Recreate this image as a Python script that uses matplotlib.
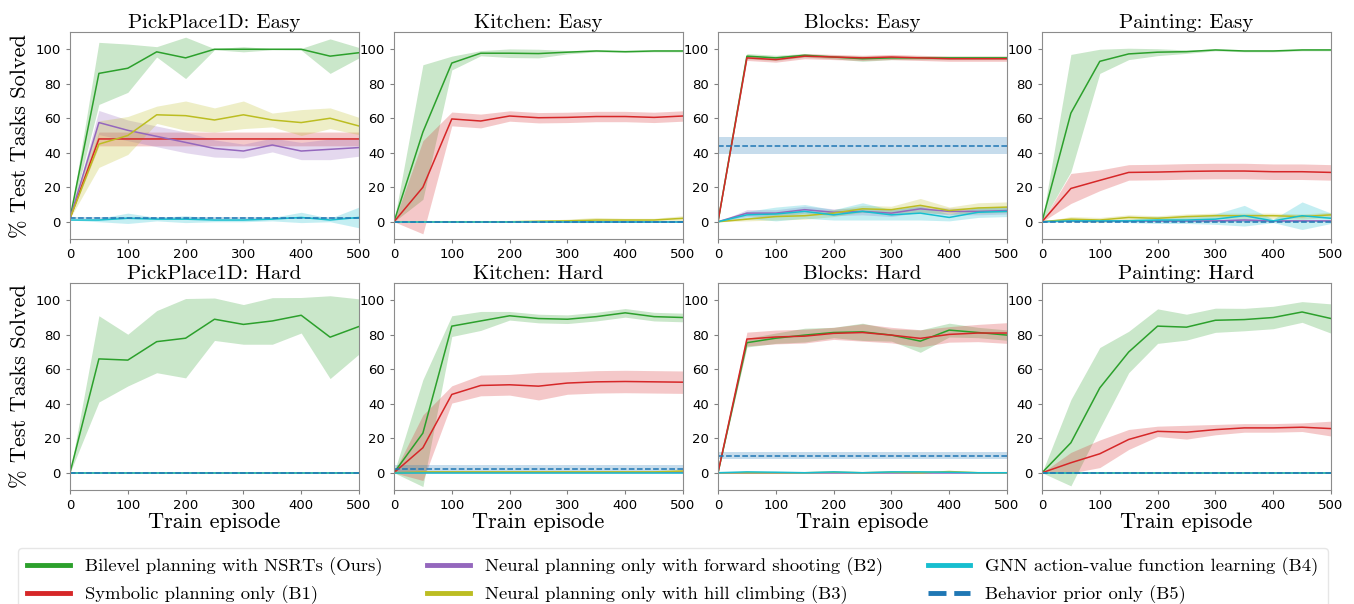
import numpy as np
import matplotlib
matplotlib.use("Agg")
import matplotlib.pyplot as plt
from matplotlib.lines import Line2D

# x positions (train episodes)
episodes = [0, 50, 100, 150, 200, 250, 300, 350, 400, 450, 500]

methods = [
    "Bilevel planning with NSRTs (Ours)",
    "Symbolic planning only (B1)",
    "Neural planning only with forward shooting (B2)",
    "Neural planning only with hill climbing (B3)",
    "GNN action-value function learning (B4)",
    "Behavior prior only (B5)",
]
colors = ["#2ca02c", "#d62728", "#9467bd", "#bcbd22", "#17becf", "#1f77b4"]

titles = ["PickPlace1D: Easy", "Kitchen: Easy", "Blocks: Easy", "Painting: Easy",
          "PickPlace1D: Hard", "Kitchen: Hard", "Blocks: Hard", "Painting: Hard"]

# rows: Ours, B1, B2, B3, B4 ; B5 is a flat (mean, std)
pickplace_easy_mean = [
    [2, 86, 89, 98.5, 95, 100, 100, 100, 100, 96, 98],
    [2, 48, 48, 48, 48, 48, 48, 48, 48, 48, 48],
    [2, 57.5, 53, 49.5, 46, 42.5, 41, 44.5, 41, 42, 43],
    [2, 45, 50, 62, 61.5, 59, 62, 59, 57.5, 60, 55.5],
    [1, 1, 2, 1.5, 1.5, 1, 1, 1.5, 2.5, 1, 2.5],
]
pickplace_easy_std = [
    [0, 18, 14, 3, 12, 0.3, 1.5, 0.3, 0.5, 10, 3],
    [0, 4, 4, 4, 4, 4, 4, 4, 4, 4, 4],
    [0, 7, 6, 6, 6, 5, 4, 4, 5, 6, 5],
    [0, 13.5, 11, 5, 8.5, 7, 8, 4, 7.5, 6, 5],
    [0, 1, 3, 1, 2, 1, 1, 1, 3, 1, 6],
]
pickplace_easy_prior = (2, 0.5)

kitchen_easy_mean = [
    [0, 52, 92, 97.7, 97.7, 97.5, 98.3, 99, 98.6, 99, 99],
    [0, 20, 59.6, 58.4, 61.3, 60.3, 60.5, 61, 61, 60.5, 61.3],
    [0, 0, 0, 0, 0, 0, 0, 0, 0, 0, 0],
    [0, 0, 0, 0, 0, 0.3, 0.5, 1, 1, 1, 2],
    [0, 0, 0, 0, 0, 0, 0, 0, 0, 0, 0],
]
kitchen_easy_std = [
    [0, 39, 4, 1.5, 2.5, 2.5, 1, 0.5, 0.5, 0.5, 0.5],
    [0, 27, 4, 4, 3, 3, 3, 3, 3, 3, 3],
    [0, 0, 0, 0, 0, 0, 0, 0, 0, 0, 0],
    [0, 0, 0, 0, 0, 0.5, 1, 1.5, 1, 1, 1.5],
    [0, 0, 0, 0, 0, 0, 0, 0, 0, 0, 0],
]
kitchen_easy_prior = (0, 0.3)

blocks_easy_mean = [
    [0, 96, 95, 96.5, 95.5, 94.5, 95, 95, 95, 95, 95],
    [0, 95, 94, 96, 95.5, 95, 95.5, 95, 94.5, 94.5, 94.5],
    [0, 5, 5, 7, 5.5, 6, 5, 7.5, 6, 6, 6.5],
    [0, 1.5, 3, 3.5, 5, 7.5, 7, 9.5, 6.5, 8, 8.5],
    [0, 4, 4.5, 6, 4, 6, 4, 5, 2.5, 5.5, 6],
]
blocks_easy_std = [
    [0, 1.5, 1.5, 1, 1, 1.5, 1, 1, 1, 1, 1],
    [0, 1.5, 1.5, 1.5, 1.5, 1.5, 1.5, 1.5, 1.5, 1.5, 1.5],
    [0, 2, 2, 2, 2, 2, 2, 2, 2, 2, 2],
    [0, 1, 2, 2, 2, 2, 2, 4, 2, 3, 3],
    [0, 2, 4, 4, 3, 5, 3, 4, 2, 3, 3],
]
blocks_easy_prior = (44, 5)

painting_easy_mean = [
    [0, 63, 93, 97.3, 98.3, 98.6, 99.6, 99, 99, 99.6, 99.6],
    [0, 19.3, 24, 28.6, 28.8, 29.2, 29.4, 29.4, 29, 29, 28.6],
    [0, 0.5, 0.5, 0.5, 0.5, 0.5, 0.5, 1, 0.5, 0.5, 0.5],
    [0, 1.5, 1, 2.5, 2, 3, 3.5, 3.5, 3.5, 3, 4],
    [0, 0.5, 0.5, 0.5, 1, 1, 1.5, 3.5, 0.5, 3.5, 2],
]
painting_easy_std = [
    [0, 34, 7, 3.3, 2, 1, 0.5, 0.5, 0.5, 0.5, 0.5],
    [0, 8.7, 6, 4.5, 4.5, 4.5, 4.5, 4.5, 4.5, 4.5, 4.5],
    [0, 0.5, 0.5, 0.5, 0.5, 0.5, 0.5, 1, 0.5, 0.5, 0.5],
    [0, 1.5, 1.5, 1.5, 1.5, 1.5, 1.5, 1.5, 1.5, 1.5, 1.5],
    [0, 0.5, 0.5, 1, 2, 2, 3, 6, 1, 8, 3],
]
painting_easy_prior = (0, 0.3)

pickplace_hard_mean = [
    [0, 66, 65.3, 76, 78, 89, 86, 88, 91.3, 78.6, 84.8],
    [0, 0, 0, 0, 0, 0, 0, 0, 0, 0, 0],
    [0, 0, 0, 0, 0, 0, 0, 0, 0, 0, 0],
    [0, 0, 0, 0, 0, 0, 0, 0, 0, 0, 0],
    [0, 0, 0, 0, 0, 0, 0, 0, 0, 0, 0],
]
pickplace_hard_std = [
    [0, 25, 15, 18, 23, 12.3, 11.5, 13.5, 10.3, 24, 16],
    [0, 0, 0, 0, 0, 0, 0, 0, 0, 0, 0],
    [0, 0, 0, 0, 0, 0, 0, 0, 0, 0, 0],
    [0, 0, 0, 0, 0, 0, 0, 0, 0, 0, 0],
    [0, 0, 0, 0, 0, 0, 0, 0, 0, 0, 0],
]
pickplace_hard_prior = (0, 0.3)

kitchen_hard_mean = [
    [0, 23, 85, 88, 91, 89.4, 89, 90.5, 92.7, 90.5, 90],
    [0, 14.5, 45.4, 50.6, 51, 50.2, 52, 52.7, 52.9, 52.7, 52.5],
    [0, 0.2, 0.2, 0.2, 0.2, 0.2, 0.2, 0.2, 0.2, 0.2, 0.2],
    [0, 0.5, 0.5, 0.5, 0.5, 0.5, 0.5, 0.5, 0.5, 0.5, 1],
    [0, 0, 0, 0, 0, 0, 0, 0, 0, 0, 0],
]
kitchen_hard_std = [
    [0, 31, 6, 5.5, 2.5, 2.5, 2.5, 2.5, 2.5, 2.5, 2.5],
    [0, 19, 5, 6, 6, 8, 6.5, 6.5, 6.5, 6.5, 6.5],
    [0, 0.3, 0.3, 0.3, 0.3, 0.3, 0.3, 0.3, 0.3, 0.3, 0.3],
    [0, 0.5, 0.5, 0.5, 0.5, 0.5, 0.5, 0.5, 0.5, 0.5, 0.5],
    [0, 0, 0, 0, 0, 0, 0, 0, 0, 0, 0],
]
kitchen_hard_prior = (2.3, 2)

blocks_hard_mean = [
    [0, 75.4, 78, 79.8, 81.3, 81.7, 79.8, 76.3, 82.7, 81.3, 79.8],
    [0, 77.5, 78.7, 79.2, 80.8, 81.3, 79.8, 77.9, 80.2, 81, 81],
    [0, 0, 0, 0, 0, 0, 0, 0, 0, 0, 0],
    [0, 0, 0, 0, 0.3, 0, 0.3, 0, 0.7, 0, 0],
    [0, 0.5, 0.3, 0, 0.5, 0, 0.5, 0.5, 0.3, 0, 0],
]
blocks_hard_std = [
    [0, 2.5, 3, 4, 3, 5, 3.5, 6.5, 4, 3, 3],
    [0, 4, 4, 4, 3.5, 5, 4.5, 5, 4.5, 5, 6],
    [0, 0, 0, 0, 0, 0, 0, 0, 0, 0, 0],
    [0, 0, 0, 0, 0.3, 0, 0.3, 0, 0.5, 0, 0],
    [0, 0.5, 0.3, 0, 0.5, 0, 0.5, 0.5, 0.3, 0, 0],
]
blocks_hard_prior = (10, 1.8)

painting_hard_mean = [
    [0, 17.4, 49.2, 70, 85, 84.4, 88.4, 88.8, 90, 93.2, 89.4],
    [0, 5.8, 11, 19.3, 24, 23.5, 25, 26, 26, 26.4, 25.6],
    [0, 0, 0, 0, 0, 0, 0, 0, 0, 0, 0],
    [0, 0, 0, 0, 0, 0, 0, 0, 0, 0, 0],
    [0, 0, 0, 0, 0, 0, 0, 0, 0, 0, 0],
]
painting_hard_std = [
    [0, 25, 23.4, 12, 10, 7.5, 7, 6.5, 6.5, 6, 8.5],
    [0, 6, 8, 5.8, 3, 4, 3, 2.5, 2.5, 2.5, 4.3],
    [0, 0, 0, 0, 0, 0, 0, 0, 0, 0, 0],
    [0, 0, 0, 0, 0, 0, 0, 0, 0, 0, 0],
    [0, 0, 0, 0, 0, 0, 0, 0, 0, 0, 0],
]
painting_hard_prior = (0, 0.3)

panels = [
    (pickplace_easy_mean, pickplace_easy_std, pickplace_easy_prior),
    (kitchen_easy_mean, kitchen_easy_std, kitchen_easy_prior),
    (blocks_easy_mean, blocks_easy_std, blocks_easy_prior),
    (painting_easy_mean, painting_easy_std, painting_easy_prior),
    (pickplace_hard_mean, pickplace_hard_std, pickplace_hard_prior),
    (kitchen_hard_mean, kitchen_hard_std, kitchen_hard_prior),
    (blocks_hard_mean, blocks_hard_std, blocks_hard_prior),
    (painting_hard_mean, painting_hard_std, painting_hard_prior),
]

SERIF = "cmr10"
W, H = 1354, 604
fig = plt.figure(figsize=(W / 100, H / 100), dpi=100)

lefts = [70, 394, 718, 1042]
tops = [32, 283]
aw, ah = 289, 207

x = np.array(episodes)
for i, (means, stds, prior) in enumerate(panels):
    r, c = divmod(i, 4)
    ax = fig.add_axes([lefts[c] / W, (H - tops[r] - ah) / H, aw / W, ah / H])
    for k in range(5):
        m = np.array(means[k], dtype=float)
        s = np.array(stds[k], dtype=float)
        ax.fill_between(x, m - s, m + s, color=colors[k], alpha=0.25, lw=0)
        ax.plot(x, m, color=colors[k], lw=1.1)
    pm, ps = prior
    ax.fill_between(x, np.full(len(x), pm - ps), np.full(len(x), pm + ps),
                    color=colors[5], alpha=0.25, lw=0)
    ax.plot(x, np.full(len(x), pm), color=colors[5], lw=1.1, ls="--")

    ax.set_xlim(0, 500)
    ax.set_ylim(-10, 110)
    ax.set_xticks(range(0, 501, 100))
    ax.set_yticks(range(0, 101, 20))
    ax.tick_params(labelsize=9.5, length=3, color="0.5")
    for sp in ax.spines.values():
        sp.set_color("0.55")
    ax.set_title(titles[i], fontsize=15, family=SERIF, pad=3)
    if c == 0:
        ax.set_ylabel("% Test Tasks Solved", fontsize=16, family=SERIF, labelpad=4)
    if r == 1:
        ax.set_xlabel("Train episode", fontsize=16, family=SERIF, labelpad=0)

handles = [Line2D([], [], color=colors[k], lw=3.5) for k in range(5)]
handles.append(Line2D([], [], color=colors[5], lw=3.5, ls="--"))
fig.legend(handles, methods, loc="upper left", ncol=3,
           bbox_to_anchor=(18 / W, 1 - 548 / H),
           prop={"family": SERIF, "size": 13.4}, frameon=True,
           edgecolor="0.88", handlelength=2.3, borderaxespad=0,
           borderpad=0.5, labelspacing=0.5, columnspacing=2.4,
           handletextpad=0.8)

fig.savefig("out.png", dpi=100)
